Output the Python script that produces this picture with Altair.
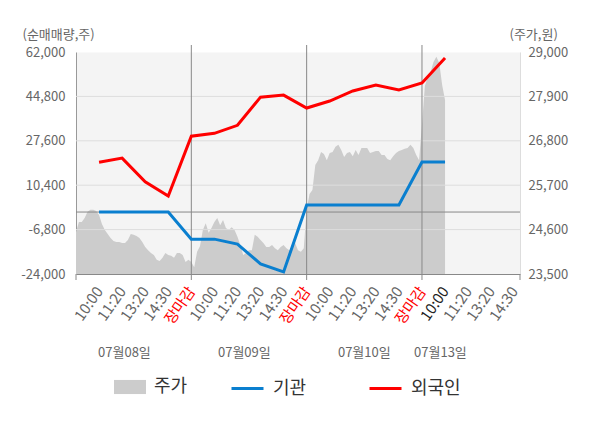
import altair as alt
import pandas as pd

FONT = "Noto Sans CJK KR"
BLUE = "#0a7fcf"
RED = "#ff0000"

# x positions are label slots: every trading day spans 5 slots
time_labels = ["10:00", "11:20", "13:20", "14:30", "장마감"]
date_labels = ["07월08일", "07월09일", "07월10일", "07월13일"]
date_pos = [2.1, 7.3, 12.5, 15.8]
day_breaks = [5, 10, 15]
x_max = 19.25
current_slot = 16

left_ticks = [-24000, -6800, 10400, 27600, 44800, 62000]
right_ticks = [23500, 24600, 25700, 26800, 27900, 29000]

# net buying (shares) at slots 1..16
inst = [0, 0, 0, 0, -10500, -10500, -12400, -20100, -23200,
        2700, 2700, 2700, 2700, 2700, 19400, 19400]
foreign = [19300, 20900, 11700, 6200, 29400, 30500, 33600, 44500, 45300,
           40300, 43000, 46900, 49200, 47300, 50000, 59700]

# share price (won), sampled every 1/8 slot from slot 0 to slot 16
price = [24540, 24790, 24790, 24890, 25040, 25090, 25090, 25060, 24960, 24740,
         24590, 24490, 24390, 24320, 24290, 24290, 24270, 24270, 24340, 24490,
         24470, 24440, 24390, 24290, 24170, 24090, 24020, 23970, 23850, 23820,
         23900, 24020, 23970, 23950, 23900, 24020, 24020, 23970, 23800, 23850,
         23800, 23670, 24050, 24190, 24590, 24760, 24520, 24640, 24790, 24890,
         24710, 24840, 24640, 24590, 24660, 24590, 24420, 24220, 23970, 24020,
         24090, 24090, 24470, 24420, 24340, 24270, 24170, 24170, 24220, 24140,
         24090, 24170, 24220, 24140, 24090, 24170, 24270, 24090, 24050, 24140,
         25090, 25480, 25580, 26200, 26320, 26520, 26470, 26320, 26500, 26520,
         26650, 26700, 26570, 26400, 26500, 26520, 26420, 26570, 26450, 26620,
         26620, 26620, 26500, 26520, 26550, 26550, 26450, 26450, 26350, 26320,
         26420, 26500, 26550, 26570, 26600, 26620, 26700, 26620, 26450, 26320,
         27190, 28160, 28380, 28510, 28750, 28880, 28730, 28180, 27810]

slots = list(range(1, len(inst) + 1))
lines_df = pd.DataFrame({"slot": slots, "inst": inst, "foreign": foreign,
                         "s1": "기관", "s2": "외국인"})
price_df = pd.DataFrame({"slot": [i / 8 for i in range(len(price))],
                         "price": price, "series": "주가"})

NUM_EXPR = "replace(format(datum.value, ',.0f'), '\u2212', '-')"
label_array = "[" + ",".join("'%s'" % t for t in time_labels) + "]"
x_scale = alt.Scale(domain=[0, x_max], nice=False, zero=False)
x_axis = alt.Axis(
    values=list(range(1, int(x_max) + 1)),
    labelExpr=label_array + "[(datum.value - 1) % 5]",
    labelAngle=-55, labelAlign="right", labelBaseline="middle", labelPadding=14,
    labelFontSize=15, labelFont=FONT,
    labelColor={"condition": [
        {"test": "datum.value == %d" % current_slot, "value": "#222222"},
        {"test": "datum.value % 5 == 0", "value": RED}],
        "value": "#666666"},
    ticks=False, grid=False, domainColor="#888888", labelOverlap=False,
)
LEFT_TITLE = "(순매매량,주)"
left_scale = alt.Scale(domain=[left_ticks[0], left_ticks[-1]], nice=False, zero=False)
left_axis = alt.Axis(
    values=left_ticks, labelExpr=NUM_EXPR,
    labelFontSize=13, labelColor="#666666", labelFont=FONT, labelPadding=11,
    ticks=False, grid=False, domainColor="#999999",
    titleAngle=0, titleX=-54, titleY=-18, titleAlign="left", titleBaseline="middle",
    titleFontSize=13, titleColor="#666666", titleFontWeight="normal", titleFont=FONT,
)
right_axis = alt.Axis(
    orient="right", values=right_ticks, labelExpr=NUM_EXPR,
    labelFontSize=13, labelColor="#666666", labelFont=FONT, labelPadding=8,
    ticks=False, grid=False, domainColor="#dddddd",
    titleAngle=0, titleX=-11, titleY=-18, titleAlign="left", titleBaseline="middle",
    titleFontSize=13, titleColor="#666666", titleFontWeight="normal", titleFont=FONT,
)


def X(field):
    return alt.X(field, scale=x_scale, axis=x_axis, title="")


def YL(field):
    return alt.Y(field, scale=left_scale, axis=left_axis, title=LEFT_TITLE)


def legend(x, y, sym, stroke_w):
    return alt.Legend(orient="none", legendX=x, legendY=y, title=None,
                      symbolType=sym, symbolSize=1024, symbolStrokeWidth=stroke_w,
                      labelFontSize=18, labelColor="#333333", labelFont=FONT,
                      labelOffset=8, padding=0)


area = alt.Chart(price_df).mark_area(interpolate="linear", opacity=1, clip=True).encode(
    x=X("slot:Q"),
    y=alt.Y("price:Q", scale=alt.Scale(domain=[right_ticks[0], right_ticks[-1]],
                                       nice=False, zero=False),
            axis=right_axis, title="(주가,원)"),
    fill=alt.Fill("series:N", scale=alt.Scale(domain=["주가"], range=["#cccccc"]),
                  legend=legend(38, 319, "M-1,-0.44H1V0.44H-1Z", 0)),
)

grid = alt.Chart(pd.DataFrame({"v": left_ticks[1:-1]})).mark_rule(
    color="#dddddd", strokeWidth=1).encode(y=YL("v:Q"))
zero = alt.Chart(pd.DataFrame({"v": [0]})).mark_rule(
    color="#888888", strokeWidth=1).encode(y=YL("v:Q"))
seps = alt.Chart(pd.DataFrame({"slot": day_breaks})).mark_rule(
    color="#888888", strokeWidth=1).encode(x=X("slot:Q"), y=alt.value(-7), y2=alt.value(222))
ticks = alt.Chart(pd.DataFrame({"slot": [0] + day_breaks + [x_max]})).mark_rule(
    color="#888888", strokeWidth=1).encode(x=X("slot:Q"), y=alt.value(222), y2=alt.value(228))

blue = alt.Chart(lines_df).mark_line(strokeWidth=3).encode(
    x=X("slot:Q"), y=YL("inst:Q"),
    color=alt.Color("s1:N", scale=alt.Scale(domain=["기관"], range=[BLUE]),
                    legend=legend(154, 319, "stroke", 3)),
)
red = alt.Chart(lines_df).mark_line(strokeWidth=3).encode(
    x=X("slot:Q"), y=YL("foreign:Q"),
    stroke=alt.Stroke("s2:N", scale=alt.Scale(domain=["외국인"], range=[RED]),
                      legend=legend(292, 319, "stroke", 3)),
)
dates = alt.Chart(pd.DataFrame({"pos": date_pos, "label": date_labels})).mark_text(
    fontSize=13, color="#666666", font=FONT, baseline="middle").encode(
    x=X("pos:Q"), y=alt.value(301), text="label:N")

left_group = alt.layer(grid, zero, seps, ticks, blue, red, dates)

chart = alt.layer(area, left_group).resolve_scale(y="independent").properties(
    width=444, height=222,
    autosize=alt.AutoSizeParams(type="none"),
    padding={"left": 68, "top": 44, "right": 72, "bottom": 140},
).configure(font=FONT).configure_view(fill="#f4f4f4", stroke="transparent")

chart.save("out.html", embed_options={"renderer": "svg", "actions": False})
